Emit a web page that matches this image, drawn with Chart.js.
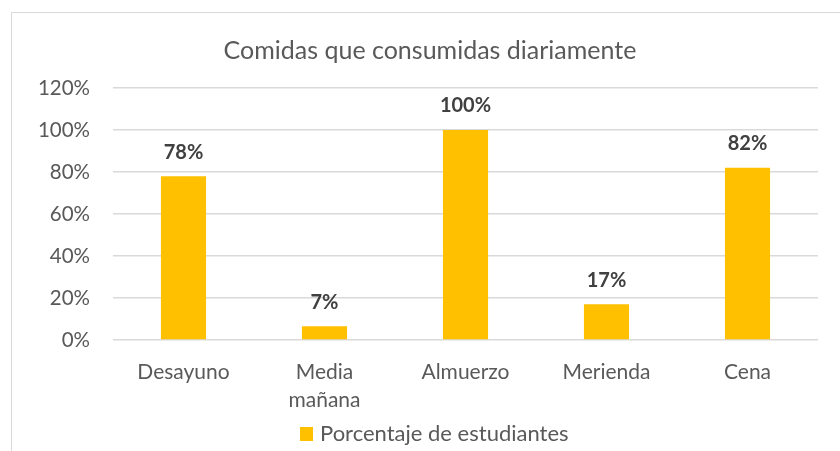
<!DOCTYPE html>
<html>
<head>
<meta charset="utf-8">
<script src="https://cdn.jsdelivr.net/npm/chart.js@4.4.1/dist/chart.umd.min.js"></script>
<style>
html,body{margin:0;padding:0;background:#fff;}
#wrap{position:relative;width:840px;height:451px;}
#frame{position:absolute;left:11px;top:12px;width:840px;height:451px;border-left:1px solid #d9d9d9;border-top:1px solid #d9d9d9;}
canvas{position:absolute;left:0;top:0;}
</style>
</head>
<body>
<div id="wrap"><div id="frame"></div><canvas id="c" width="840" height="451"></canvas></div>
<script>
const titleText = "Comidas que consumidas diariamente";
const categories = ["Desayuno", ["Media", "mañana"], "Almuerzo", "Merienda", "Cena"];
const seriesName = "Porcentaje de estudiantes";
const values = [78, 6.5, 100, 17, 82];
const valueLabels = ["78%", "7%", "100%", "17%", "82%"];
const yTicks = [0, 20, 40, 60, 80, 100, 120];

const FONT = "Lato, 'Open Sans', sans-serif";
const GOLD = "#FFC000";
const TXT = "#595959";

const decor = {
  id: 'decor',
  afterDatasetsDraw(chart) {
    const ctx = chart.ctx;
    const meta = chart.getDatasetMeta(0);
    ctx.save();
    ctx.font = "bold 20px " + FONT;
    ctx.fillStyle = "#404040";
    ctx.textAlign = "center";
    ctx.textBaseline = "middle";
    meta.data.forEach((bar, i) => {
      ctx.fillText(valueLabels[i], bar.x, bar.y - 24);
    });
    ctx.restore();
  },
  afterDraw(chart) {
    const ctx = chart.ctx;
    ctx.save();
    ctx.fillStyle = TXT;
    ctx.font = "25px " + FONT;
    ctx.textAlign = "center";
    ctx.textBaseline = "middle";
    ctx.fillText(titleText, 430, 51);
    // legend
    ctx.fillStyle = GOLD;
    ctx.fillRect(300, 427, 13, 14);
    ctx.fillStyle = TXT;
    ctx.font = "22px " + FONT;
    ctx.textAlign = "left";
    ctx.fillText(seriesName, 320, 434);
    ctx.restore();
  }
};

new Chart(document.getElementById('c'), {
  type: 'bar',
  data: {
    labels: categories,
    datasets: [{
      label: seriesName,
      data: values,
      backgroundColor: GOLD,
      categoryPercentage: 1,
      barPercentage: 0.32
    }]
  },
  options: {
    responsive: false,
    animation: false,
    layout: { padding: { top: 88, right: 22, left: 0, bottom: 0 } },
    plugins: { legend: { display: false }, title: { display: false }, tooltip: { enabled: false } },
    scales: {
      x: {
        grid: { display: false, drawTicks: false },
        border: { display: false },
        ticks: { color: TXT, font: { family: FONT, size: 21, lineHeight: 1.33 }, padding: 18, maxRotation: 0, autoSkip: false },
        afterFit(s) { s.height = 111; }
      },
      y: {
        min: 0, max: 120,
        afterBuildTicks(s) { s.ticks = yTicks.map(v => ({ value: v })); },
        grid: { color: "#d9d9d9", lineWidth: 1.5, drawTicks: false },
        border: { display: false },
        ticks: { color: TXT, font: { family: FONT, size: 20.5 }, padding: 23, callback: v => v + "%" },
        afterFit(s) { s.width = 113; }
      }
    }
  },
  plugins: [decor]
});
</script>
</body>
</html>
